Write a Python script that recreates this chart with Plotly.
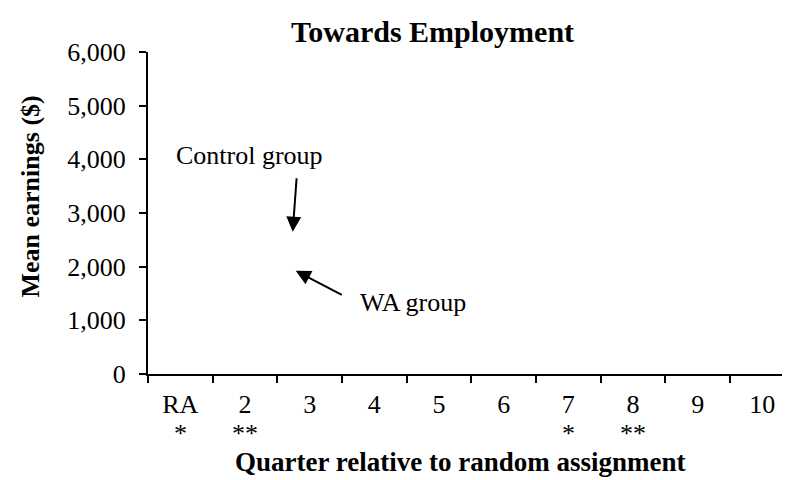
import plotly.graph_objects as go

# ---- data ----
categories = ["RA", "2", "3", "4", "5", "6", "7", "8", "9", "10"]
significance = ["*", "**", "", "", "", "", "*", "**", "", ""]
y_ticks = [0, 1000, 2000, 3000, 4000, 5000, 6000]

title_text = "Towards Employment"
x_title = "Quarter relative to random assignment"
y_title = "Mean earnings ($)"
annot_control = "Control group"
annot_wa = "WA group"

FONT = "Liberation Serif, Times New Roman, serif"
OFF = 8  # default page body margin in the written HTML
W, H = 790 - OFF, 480 - OFF
ML, MR, MT, MB = 148 - OFF, 0, 52 - OFF, 106
PW, PH = W - ML - MR, H - MT - MB


def px_to_paper(px, py):
    # px, py are page pixels
    px, py = px - OFF, py - OFF
    return (px - ML) / PW, (H - MB - py) / PH


fig = go.Figure()
fig.add_trace(go.Scatter(x=categories, y=[None] * len(categories), mode="lines",
                         showlegend=False, hoverinfo="skip"))

cat_px = 64.67
fig.update_layout(
    width=W, height=H,
    margin=dict(l=ML, r=MR, t=MT, b=MB),
    paper_bgcolor="white", plot_bgcolor="white",
    font=dict(family=FONT, size=26, color="black"),
    showlegend=False,
    xaxis=dict(
        type="category", categoryorder="array", categoryarray=categories,
        range=[-0.5, -0.5 + PW / cat_px],
        tickmode="array", tickvals=categories, ticktext=categories,
        tickson="boundaries", ticks="outside", ticklen=7, tickwidth=2, tickcolor="black",
        showline=True, linecolor="black", linewidth=2,
        showgrid=False, zeroline=False,
        tickfont=dict(family=FONT, size=26, color="black"),
        ticklabelstandoff=6,
    ),
    yaxis=dict(
        range=[0, 6000], tickmode="array", tickvals=y_ticks,
        ticktext=[f"{v:,}" for v in y_ticks],
        ticks="outside", ticklen=7, tickwidth=2, tickcolor="black",
        showline=True, linecolor="black", linewidth=2,
        showgrid=False, zeroline=False,
        tickfont=dict(family=FONT, size=26, color="black"),
        ticklabelstandoff=8,
    ),
)

anns = []
tx, ty = px_to_paper(432.7, 31.5)
anns.append(dict(text=f"<b>{title_text}</b>", x=tx, y=ty, xref="paper", yref="paper",
                 showarrow=False, xanchor="center", yanchor="middle",
                 font=dict(family=FONT, size=30, color="black")))
tx, ty = px_to_paper(460, 462)
anns.append(dict(text=f"<b>{x_title}</b>", x=tx, y=ty, xref="paper", yref="paper",
                 showarrow=False, xanchor="center", yanchor="middle",
                 font=dict(family=FONT, size=27, color="black")))
tx, ty = px_to_paper(30, 196.5)
anns.append(dict(text=f"<b>{y_title}</b>", x=tx, y=ty, xref="paper", yref="paper",
                 showarrow=False, xanchor="center", yanchor="middle", textangle=-90,
                 font=dict(family=FONT, size=26, color="black")))
tx, ty = px_to_paper(249.5, 155)
anns.append(dict(text=annot_control, x=tx, y=ty, xref="paper", yref="paper",
                 showarrow=False, xanchor="center", yanchor="middle",
                 font=dict(family=FONT, size=26, color="black")))
tx, ty = px_to_paper(412.5, 302.7)
anns.append(dict(text=annot_wa, x=tx, y=ty, xref="paper", yref="paper",
                 showarrow=False, xanchor="center", yanchor="middle",
                 font=dict(family=FONT, size=26, color="black")))

# significance stars under the quarter labels (x = category index on the category axis)
_, star_y = px_to_paper(0, 433)
for i, sig in enumerate(significance):
    if sig:
        anns.append(dict(text=sig, x=i, y=star_y, xref="x", yref="paper",
                         showarrow=False, xanchor="center", yanchor="middle",
                         font=dict(family=FONT, size=26, color="black")))

# arrows (tip, tail) in page pixels
for tip, tail in [((292.7, 231.7), (296.7, 176.7)), ((295.7, 270.7), (343.3, 295.7))]:
    x, y = px_to_paper(*tip)
    anns.append(dict(text="", x=x, y=y, xref="paper", yref="paper",
                     showarrow=True, arrowhead=2, arrowsize=1.5, arrowwidth=2,
                     arrowcolor="black", ax=tail[0] - tip[0], ay=tail[1] - tip[1],
                     axref="pixel", ayref="pixel", standoff=0, startstandoff=0))

fig.update_layout(annotations=anns)
fig.write_html("out.html")
